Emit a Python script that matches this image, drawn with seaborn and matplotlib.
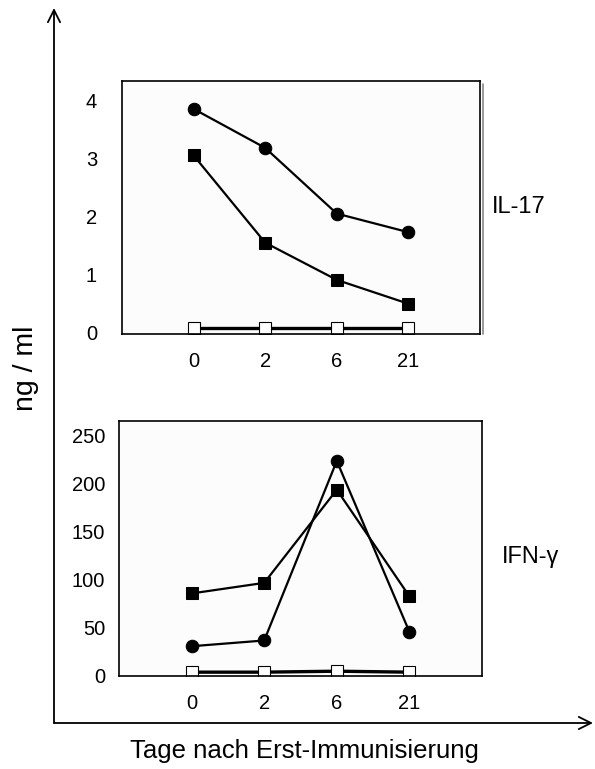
import matplotlib
matplotlib.use("Agg")
import matplotlib.pyplot as plt
from matplotlib.patches import FancyArrowPatch
import seaborn as sns
import pandas as pd

# ---------------- data ----------------
days = ["0", "2", "6", "21"]

il17_circle = [3.85, 3.18, 2.05, 1.73]
il17_square = [3.05, 1.55, 0.91, 0.50]
il17_open = [0.08, 0.08, 0.08, 0.08]

ifng_circle = [30, 36, 223, 45]
ifng_square = [85, 96, 193, 82]
ifng_open = [3, 3, 4, 3]

il17_yticks = [0, 1, 2, 3, 4]
ifng_yticks = [0, 50, 100, 150, 200, 250]

panel_labels = ["IL-17", "IFN-\u03b3"]
ylabel = "ng / ml"
xlabel = "Tage nach Erst-Immunisierung"

# ---------------- style ----------------
sns.set_theme(style="white")
plt.rcParams["font.family"] = ["Liberation Sans", "DejaVu Sans"]
plt.rcParams["text.color"] = "black"

W, H = 595, 769
fig = plt.figure(figsize=(W / 100, H / 100), dpi=100)


def px_axes(left, top, right, bottom):
    return fig.add_axes([left / W, 1 - bottom / H, (right - left) / W, (bottom - top) / H])


ax1 = px_axes(122, 81, 480, 334)
ax2 = px_axes(119, 421, 482, 676)

styles = [
    dict(marker="o", markersize=9, markerfacecolor="black", markeredgecolor="black"),
    dict(marker="s", markersize=8, markerfacecolor="black", markeredgecolor="black"),
    dict(marker="s", markersize=8, markerfacecolor="white", markeredgecolor="black",
         markeredgewidth=0.8),
]


def draw(ax, series, yticks, ylim, ypad):
    x = list(range(len(days)))
    for vals, st in zip(series, styles):
        df = pd.DataFrame({"pos": x, "value": vals})
        lw = 2.4 if st["markerfacecolor"] == "white" else 1.6
        sns.lineplot(data=df, x="pos", y="value", ax=ax, color="black",
                     linewidth=lw, legend=False, errorbar=None, **st)
    ax.set_xlim(-1, 4)
    ax.set_ylim(*ylim)
    ax.set_xticks(x)
    ax.set_xticklabels(days)
    ax.set_yticks(yticks)
    ax.set_yticklabels([str(t) for t in yticks])
    ax.set_xlabel("")
    ax.set_ylabel("")
    ax.set_facecolor("#fcfcfc")
    for sp in ax.spines.values():
        sp.set_visible(True)
        sp.set_color("black")
        sp.set_linewidth(1.2)
    ax.tick_params(axis="both", length=0, labelsize=14.5, colors="black")
    ax.tick_params(axis="x", pad=13)
    ax.tick_params(axis="y", pad=ypad)


draw(ax1, [il17_circle, il17_square, il17_open], il17_yticks, (-0.02, 4.33), 18)
draw(ax2, [ifng_circle, ifng_square, ifng_open], ifng_yticks, (-1, 264.6), 10)

# shadow on right edge of upper panel
fig.add_artist(plt.Line2D([483 / W, 483 / W], [1 - 84 / H, 1 - 334 / H],
                          transform=fig.transFigure, color="#888888", lw=1.2))

# panel labels
fig.text(492 / W, 1 - 207 / H, panel_labels[0], fontsize=17, ha="left", va="center",
         color="black")
fig.text(502 / W, 1 - 557 / H, panel_labels[1], fontsize=17, ha="left", va="center",
         color="black")

# big outer arrows
ox, oy = 54, 723
fig.add_artist(FancyArrowPatch((ox / W, 1 - oy / H), (ox / W, 1 - 8 / H),
                               transform=fig.transFigure, arrowstyle="->",
                               mutation_scale=22, lw=1.3, color="black",
                               shrinkA=0, shrinkB=0))
fig.add_artist(FancyArrowPatch((ox / W, 1 - oy / H), (593 / W, 1 - oy / H),
                               transform=fig.transFigure, arrowstyle="->",
                               mutation_scale=22, lw=1.3, color="black",
                               shrinkA=0, shrinkB=0))

fig.text(26 / W, 1 - 368 / H, ylabel, fontsize=20.5, rotation=90, ha="center",
         va="center", color="black")
fig.text(304 / W, 1 - 751 / H, xlabel, fontsize=18.5, ha="center", va="center",
         color="black")

fig.savefig("out.png", dpi=100)
